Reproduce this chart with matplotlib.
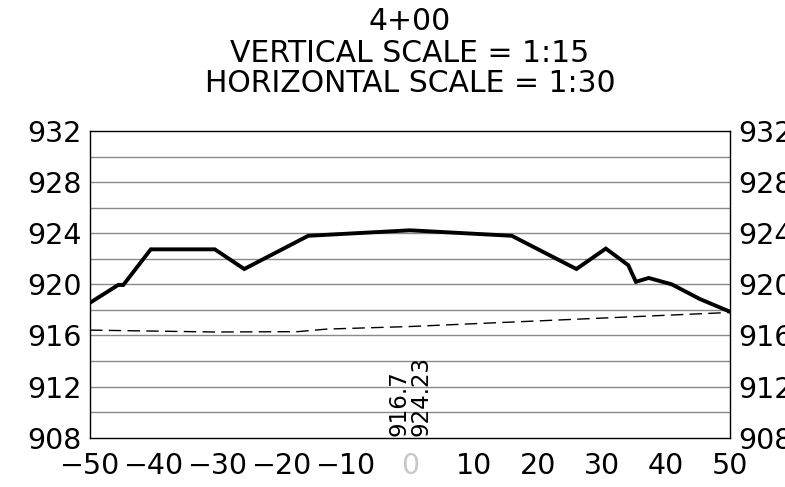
import matplotlib
matplotlib.use("Agg")
import matplotlib.pyplot as plt

# Data
title_lines = ["4+00", "VERTICAL SCALE = 1:15", "HORIZONTAL SCALE = 1:30"]
ground_x = [-50, -45.6, -44.8, -40.5, -30.5, -25.9, -15.9, 0, 15.9, 26.0, 30.6, 34.1, 35.3, 37.3, 40.9, 45.3, 50]
ground_y = [918.56, 919.95, 919.95, 922.74, 922.74, 921.2, 923.8, 924.23, 923.8, 921.2, 922.8, 921.5, 920.2, 920.5, 920.0, 918.85, 917.86]
existing_x = [-50, -30.5, -17.5, -13, 0, 50]
existing_y = [916.42, 916.27, 916.3, 916.5, 916.7, 917.8]
x_ticks = [-50, -40, -30, -20, -10, 0, 10, 20, 30, 40, 50]
y_ticks = [908, 912, 916, 920, 924, 928, 932]
y_grid = [910, 914, 918, 922, 926, 930]
center_labels = ["916.7", "924.23"]
center_label_x = [-1.7, 1.7]

FS = 20.5
fig = plt.figure(figsize=(7.85, 4.87), dpi=100)
ax = fig.add_axes([90/785, 1-437.7/487, 640/785, (437.7-131)/487])

ax.set_xlim(-50, 50)
ax.set_ylim(908, 932)

for g in y_ticks[1:-1] + y_grid:
    ax.axhline(g, color="#8a8a8a", lw=1.0, zorder=1)

ax.plot(existing_x, existing_y, color="black", lw=1.0, dashes=(9, 4.5), zorder=2)
ax.plot(ground_x, ground_y, color="black", lw=2.8, solid_joinstyle="miter", zorder=3)

for s in ax.spines.values():
    s.set_linewidth(1.0)
    s.set_color("black")

ax.set_xticks(x_ticks)
ax.set_xticklabels([f"{v}".replace("-", "\u2212") for v in x_ticks])
ax.set_yticks(y_ticks)
ax.set_yticklabels([str(v) for v in y_ticks])
ax.tick_params(axis="both", length=0, labelsize=FS)
ax.tick_params(axis="x", pad=10)
ax.tick_params(axis="y", pad=6, labelright=True)
for lbl in ax.get_xticklabels():
    if lbl.get_text() == "0":
        lbl.set_color("#c8c8c8")

for t, xv in zip(center_labels, center_label_x):
    ax.text(xv, 908.1, t, rotation=90, ha="center", va="bottom", fontsize=16.5, zorder=4)

ys = [1-22/487, 1-53/487, 1-83.5/487]
for t, yv in zip(title_lines, ys):
    fig.text(410/785, yv, t, ha="center", va="center", fontsize=21.5)

fig.savefig("out.png", dpi=100)
